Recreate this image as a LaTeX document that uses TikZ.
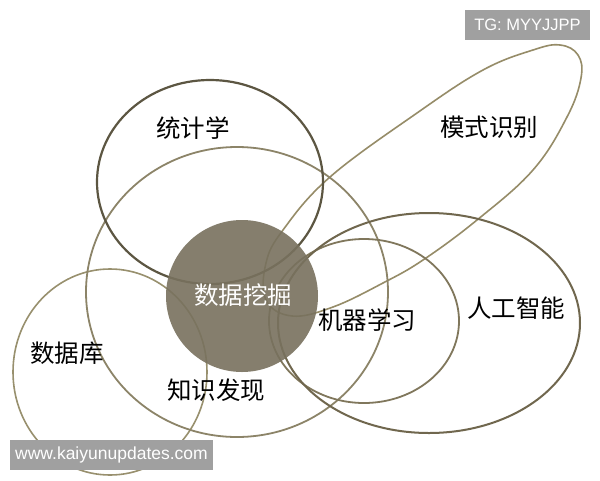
\documentclass[tikz,border=0pt]{standalone}
\usepackage{fontspec}
\setmainfont{Liberation Sans}
\newfontfamily\cjk{Noto Sans CJK SC}
\definecolor{statc}{RGB}{92,86,66}
\definecolor{kdc}{RGB}{140,132,104}
\definecolor{dbc}{RGB}{152,144,110}
\definecolor{mlc}{RGB}{128,119,92}
\definecolor{aic}{RGB}{112,103,78}
\definecolor{prc}{RGB}{150,140,104}
\definecolor{dmfill}{RGB}{120,113,94}
\definecolor{wmgray}{RGB}{160,160,160}
\tikzset{
  lbl/.style={font=\cjk\fontsize{24.5}{26}\selectfont, text=black, inner sep=0pt},
  wm/.style={fill=wmgray, text=white, inner sep=0pt}
}
\begin{document}
\begin{tikzpicture}[x=1pt,y=-1pt]
\useasboundingbox (0,0) rectangle (600,480);
\fill[white] (0,0) rectangle (600,480);
% pattern recognition
\draw[prc, line width=1.6pt] plot[smooth cycle, tension=0.65] coordinates {
  (283,230) (330,177) (417,113) (483,70) (533,50) (560,45) (578,55)
  (581,78) (567,117) (533,170) (477,220) (423,260) (383,283) (333,307)
  (292,316) (266,300) (266,263)};
% database
\draw[dbc, line width=1.6pt] (110,372) ellipse [x radius=97pt, y radius=103pt];
% knowledge discovery
\draw[kdc, line width=1.8pt] (237,292) ellipse [x radius=151pt, y radius=145pt];
% statistics
\draw[statc, line width=2.2pt] (210,182) ellipse [x radius=113pt, y radius=102pt];
% machine learning
\draw[mlc, line width=1.8pt] (364,321) ellipse [x radius=95pt, y radius=82pt];
% artificial intelligence
\draw[aic, line width=2pt] (429,323) ellipse [x radius=151pt, y radius=110pt];
% data mining
\fill[dmfill, fill opacity=0.9] (242,296) circle [radius=76pt];
\node[lbl, text=white] (dm) at (243,295) {数据挖掘};
\node[lbl] (stat) at (193,128) {统计学};
\node[lbl] (pr) at (489,127) {模式识别};
\node[lbl] (ai) at (516,308) {人工智能};
\node[lbl] (ml) at (367,320) {机器学习};
\node[lbl] (db) at (67,353) {数据库};
\node[lbl] (kd) at (216,390) {知识发现};
% watermarks
\node[wm, minimum width=125pt, minimum height=30pt, font=\fontsize{16.5}{18}\selectfont] (tg) at (527.5,25) {TG: MYYJJPP};
\node[wm, minimum width=203pt, minimum height=30pt, font=\fontsize{17.5}{19}\selectfont] (site) at (111.5,455) {www.kaiyunupdates.com};
\end{tikzpicture}
\end{document}
